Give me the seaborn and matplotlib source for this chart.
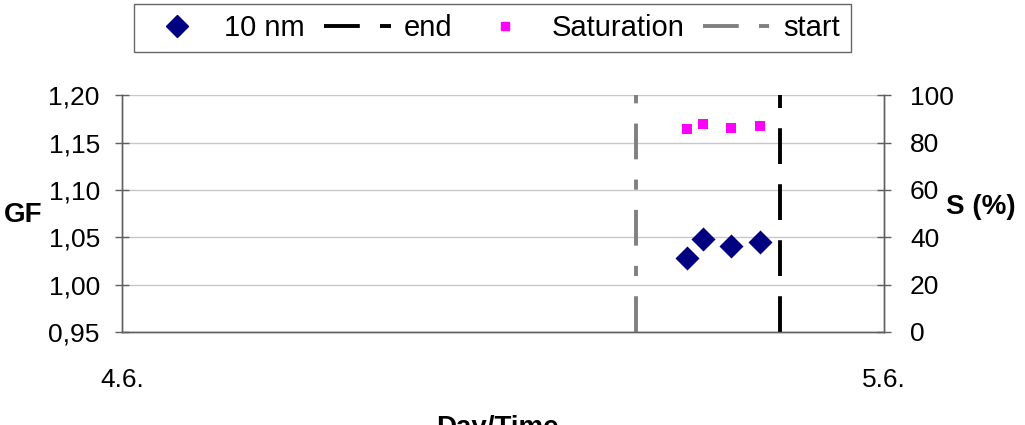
import numpy as np
import pandas as pd
import matplotlib
matplotlib.use("Agg")
import matplotlib.pyplot as plt
from matplotlib.lines import Line2D
import seaborn as sns

# Data (hours since 4.6. 00:00)
time_h = [17.8, 18.3, 19.2, 20.1]
gf_10nm = [1.028, 1.048, 1.041, 1.045]
saturation = [85.7, 87.8, 86.1, 86.9]
start_h = 16.2
end_h = 20.75
xtick_labels = ["4.6.", "5.6."]

sns.set_theme(style="white")
plt.rcParams['font.family'] = ['Liberation Sans', 'DejaVu Sans']
plt.rcParams['font.size'] = 19
plt.rcParams['text.color'] = 'black'
plt.rcParams['xtick.color'] = 'black'
plt.rcParams['ytick.color'] = 'black'

df = pd.DataFrame({"t": time_h, "GF": gf_10nm, "S": saturation})

fig = plt.figure(figsize=(10.25, 4.25), dpi=100)
ax = fig.add_axes([0.119, 0.219, 0.743, 0.557])
ax2 = ax.twinx()

sns.scatterplot(data=df, x="t", y="GF", ax=ax, marker="D", s=150,
                color="#000080", edgecolor="#000080", linewidth=0, zorder=5)
sns.scatterplot(data=df, x="t", y="S", ax=ax2, marker="s", s=55,
                color="#ff00ff", edgecolor="#ff00ff", linewidth=0, zorder=5)

LW = 2.8
end_dash = (9.2, 5.2)
start_dash = (9.2, 5.2, 2.6, 5.2)
ax.axvline(start_h, color="#808080", lw=LW, dashes=start_dash, zorder=3)
ax.axvline(end_h, color="black", lw=LW, dashes=end_dash, zorder=3)

ax.set_xlim(0, 24)
ax.set_ylim(0.95, 1.20)
ax2.set_ylim(0, 100)
yt = np.arange(0.95, 1.2001, 0.05)
ax.set_yticks(yt)
ax.set_yticklabels([f"{v:.2f}".replace(".", ",") for v in yt])
ax2.set_yticks(np.arange(0, 101, 20))
ax.set_xticks([0, 24])
ax.set_xticklabels(xtick_labels)
ax.set_xticks([6, 12, 18], minor=True)

ax.grid(axis="y", color="#c8c8c8", lw=1)
ax.set_axisbelow(True)
ax.set_xlabel("")
ax.set_ylabel("")
ax2.set_ylabel("")

for a in (ax, ax2):
    for s in a.spines.values():
        s.set_color("#606060")
        s.set_linewidth(1)
    a.spines["top"].set_visible(False)
ax.tick_params(axis="y", direction="inout", length=10, width=1, color="#606060", labelcolor="black", pad=11, labelsize=19)
ax2.tick_params(axis="y", direction="inout", length=10, width=1, color="#606060", labelcolor="black", pad=14, labelsize=19)
ax.tick_params(axis="x", which="both", direction="in", length=6, width=1, color="#606060", labelcolor="black", pad=21, labelsize=19)
ax.tick_params(axis="x", which="major", direction="inout", length=10)

fig.text(0.004, 0.494, "GF", fontsize=20, fontweight="bold", ha="left", va="center", color="black")
fig.text(0.923, 0.513, "S (%)", fontsize=20, fontweight="bold", ha="left", va="center", color="black")
fig.text(0.485, 0.024, "Day/Time", fontsize=20, fontweight="bold", ha="center", va="top", color="black")

handles = [
    Line2D([], [], marker="D", color="#000080", ls="", markersize=11),
    Line2D([], [], color="black", lw=LW, dashes=end_dash),
    Line2D([], [], marker="s", color="#ff00ff", ls="", markersize=6),
    Line2D([], [], color="#808080", lw=LW, dashes=start_dash),
]
labels = ["10 nm", "end", "Saturation", "start"]
leg = fig.legend(handles, labels, loc="center", bbox_to_anchor=(0.48, 0.934), ncol=4,
                 fontsize=21, frameon=True, fancybox=False, edgecolor="#404040",
                 handlelength=2.3, columnspacing=0.65, handletextpad=0.45,
                 borderpad=0.35, borderaxespad=0)
leg.get_frame().set_linewidth(1)
for t in leg.get_texts():
    t.set_color("black")

fig.savefig("out.png", dpi=100)
